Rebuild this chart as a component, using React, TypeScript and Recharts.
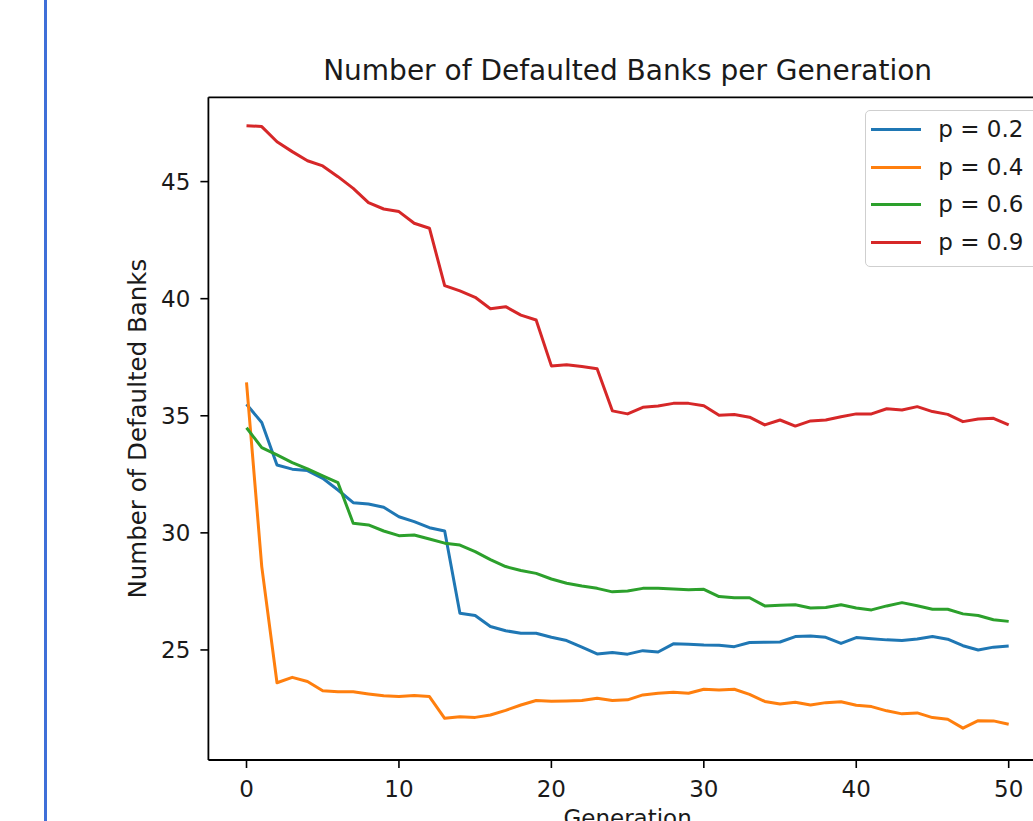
import React from 'react';
import { LineChart, Line, XAxis, YAxis, Legend } from 'recharts';

// ---- data ----
const generations = [
  0, 1, 2, 3, 4, 5, 6, 7, 8, 9,
  10, 11, 12, 13, 14, 15, 16, 17, 18, 19,
  20, 21, 22, 23, 24, 25, 26, 27, 28, 29,
  30, 31, 32, 33, 34, 35, 36, 37, 38, 39,
  40, 41, 42, 43, 44, 45, 46, 47, 48, 49, 50,
];

const defaultedP02 = [
  35.49, 34.71, 32.9, 32.72, 32.66, 32.33, 31.83, 31.29, 31.23, 31.09,
  30.69, 30.48, 30.22, 30.08, 26.57, 26.47, 26.0, 25.82, 25.71, 25.71,
  25.54, 25.4, 25.12, 24.83, 24.89, 24.82, 24.97, 24.91, 25.26, 25.24,
  25.21, 25.2, 25.14, 25.32, 25.33, 25.34, 25.57, 25.6, 25.54, 25.28,
  25.53, 25.48, 25.43, 25.4, 25.47, 25.57, 25.46, 25.18, 25.0, 25.12, 25.17,
];

const defaultedP04 = [
  36.43, 28.56, 23.6, 23.83, 23.65, 23.26, 23.21, 23.21, 23.12, 23.04,
  23.01, 23.05, 23.01, 22.08, 22.15, 22.12, 22.22, 22.42, 22.65, 22.84,
  22.81, 22.82, 22.84, 22.94, 22.84, 22.87, 23.08, 23.15, 23.19, 23.15,
  23.32, 23.29, 23.32, 23.1, 22.8, 22.69, 22.77, 22.65, 22.75, 22.79,
  22.64, 22.58, 22.4, 22.27, 22.31, 22.11, 22.04, 21.66, 21.98, 21.97, 21.83,
];

const defaultedP06 = [
  34.49, 33.64, 33.33, 33.0, 32.73, 32.43, 32.14, 30.41, 30.34, 30.08,
  29.88, 29.91, 29.74, 29.56, 29.48, 29.2, 28.86, 28.56, 28.39, 28.27,
  28.03, 27.85, 27.73, 27.63, 27.48, 27.52, 27.63, 27.63, 27.6, 27.57,
  27.59, 27.28, 27.23, 27.23, 26.88, 26.91, 26.93, 26.79, 26.81, 26.93,
  26.79, 26.71, 26.88, 27.02, 26.89, 26.74, 26.74, 26.54, 26.47, 26.29, 26.22,
];

const defaultedP09 = [
  47.39, 47.35, 46.7, 46.28, 45.89, 45.67, 45.21, 44.71, 44.1, 43.83,
  43.72, 43.22, 43.01, 40.56, 40.33, 40.06, 39.57, 39.66, 39.3, 39.09,
  37.13, 37.18, 37.1, 37.01, 35.21, 35.08, 35.36, 35.42, 35.53, 35.53,
  35.43, 35.02, 35.05, 34.94, 34.61, 34.82, 34.56, 34.78, 34.82, 34.96,
  35.08, 35.08, 35.3, 35.25, 35.39, 35.18, 35.06, 34.75, 34.86, 34.89, 34.61,
];

const seriesNames = ['p = 0.2', 'p = 0.4', 'p = 0.6', 'p = 0.9'];
const xTicks = [0, 10, 20, 30, 40, 50];
const yTicks = [25, 30, 35, 40, 45];
const xDomain = [-2.5, 52.5];
const yDomain = [20.3, 48.6];

const chartTitle = 'Number of Defaulted Banks per Generation';
const xAxisTitle = 'Generation';
const yAxisTitle = 'Number of Defaulted Banks';

const rows = generations.map((g, i) => ({
  generation: g,
  p02: defaultedP02[i],
  p04: defaultedP04[i],
  p06: defaultedP06[i],
  p09: defaultedP09[i],
}));

// ---- styling / layout ----
const FONT = '"DejaVu Sans", Verdana, sans-serif';
const TEXT = '#1a1a1a';
const COLORS = ['#1f77b4', '#ff7f0e', '#2ca02c', '#d62728'];

const CHART_W = 1100;
const CHART_H = 860;
const PLOT_LEFT = 208.4;
const PLOT_RIGHT = 1046.8;
const PLOT_TOP = 97.3;
const PLOT_BOTTOM = 760;
const PLOT_MID_X = (PLOT_LEFT + PLOT_RIGHT) / 2;
const PLOT_MID_Y = (PLOT_TOP + PLOT_BOTTOM) / 2;

const TitleText = () => (
  <text
    x={PLOT_MID_X}
    y={80}
    textAnchor="middle"
    fontFamily={FONT}
    fontSize={28}
    fill={TEXT}
  >
    {chartTitle}
  </text>
);

const XTitleText = () => (
  <text
    x={PLOT_MID_X}
    y={826}
    textAnchor="middle"
    fontFamily={FONT}
    fontSize={23}
    fill={TEXT}
  >
    {xAxisTitle}
  </text>
);

const YTitleText = () => (
  <text
    x={146.5}
    y={PLOT_MID_Y}
    transform={`rotate(-90, 146.5, ${PLOT_MID_Y})`}
    textAnchor="middle"
    fontFamily={FONT}
    fontSize={24.5}
    fill={TEXT}
  >
    {yAxisTitle}
  </text>
);

const LegendBox = (props: any) => {
  const payload = props.payload || [];
  return (
    <div
      style={{
        boxSizing: 'border-box',
        width: 178,
        height: 157,
        border: '1.5px solid #cfcfcf',
        borderRadius: 5,
        background: 'rgba(255,255,255,0.85)',
        fontFamily: FONT,
        fontSize: 23,
        color: TEXT,
      }}
    >
      {payload.map((entry: any) => (
        <div
          key={entry.value}
          style={{ display: 'flex', alignItems: 'center', height: 37.7, paddingLeft: 5.5 }}
        >
          <span
            style={{ display: 'inline-block', width: 50, height: 3, background: entry.color }}
          />
          <span style={{ marginLeft: 17.3, lineHeight: 1, whiteSpace: 'nowrap' }}>
            {entry.value}
          </span>
        </div>
      ))}
    </div>
  );
};

const tickStyle = { fontFamily: FONT, fontSize: 23, fill: TEXT };
const axisLineStyle = { stroke: '#000', strokeWidth: 1.8 };
const tickLineStyle = { stroke: '#000', strokeWidth: 1.6 };

export default function App() {
  const keys = ['p02', 'p04', 'p06', 'p09'];
  return (
    <div
      style={{
        position: 'fixed',
        left: 0,
        top: 0,
        width: 1033,
        height: 821,
        overflow: 'hidden',
        background: '#ffffff',
      }}
    >
      <div
        style={{
          position: 'absolute',
          left: 44,
          top: 0,
          width: 2.5,
          height: 821,
          background: '#3f6fd8',
        }}
      />
      <div style={{ position: 'absolute', left: 0, top: 0 }}>
        <LineChart
          width={CHART_W}
          height={CHART_H}
          data={rows}
          margin={{ top: 0, right: CHART_W - PLOT_RIGHT, bottom: 0, left: 0 }}
        >
          <XAxis
            xAxisId="frame"
            orientation="top"
            dataKey="generation"
            type="number"
            domain={xDomain}
            allowDataOverflow
            height={PLOT_TOP}
            tick={false}
            tickLine={false}
            axisLine={axisLineStyle}
            label={{ content: TitleText }}
          />
          <XAxis
            xAxisId="main"
            dataKey="generation"
            type="number"
            domain={xDomain}
            allowDataOverflow
            ticks={xTicks}
            height={CHART_H - PLOT_BOTTOM}
            tick={tickStyle}
            tickSize={8}
            tickMargin={13}
            tickLine={tickLineStyle}
            axisLine={axisLineStyle}
            interval={0}
            label={{ content: XTitleText }}
          />
          <YAxis
            type="number"
            domain={yDomain}
            allowDataOverflow
            ticks={yTicks}
            width={PLOT_LEFT}
            tick={tickStyle}
            tickSize={8}
            tickMargin={10}
            tickLine={tickLineStyle}
            axisLine={axisLineStyle}
            interval={0}
            label={{ content: YTitleText }}
          />
          {keys.map((k, i) => (
            <Line
              key={k}
              xAxisId="main"
              type="linear"
              dataKey={k}
              name={seriesNames[i]}
              stroke={COLORS[i]}
              strokeWidth={3}
              strokeLinejoin="round"
              dot={false}
              activeDot={false}
              isAnimationActive={false}
            />
          ))}
          <Legend
            layout="vertical"
            align="center"
            verticalAlign="middle"
            content={LegendBox}
            wrapperStyle={{ left: 864.5, top: 109.5, width: 178, height: 157 }}
          />
        </LineChart>
      </div>
    </div>
  );
}
